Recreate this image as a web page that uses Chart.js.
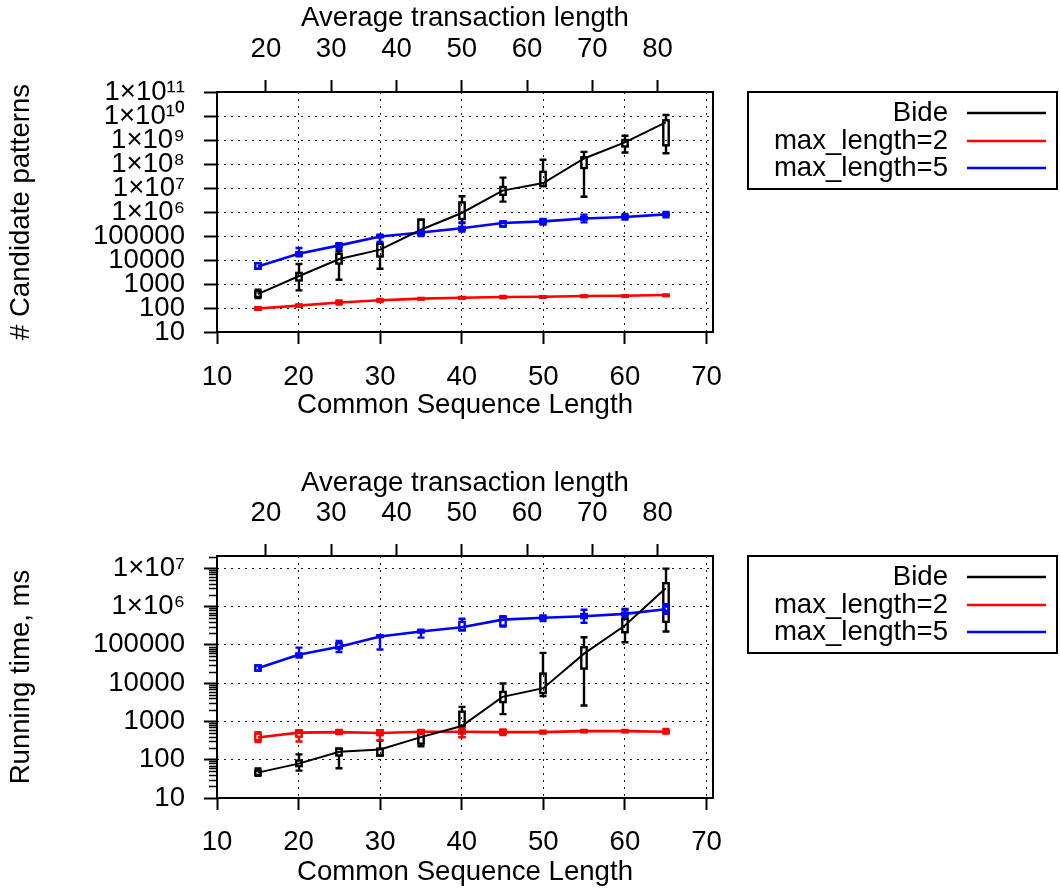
<!DOCTYPE html>
<html><head><meta charset="utf-8">
<script src="https://cdn.jsdelivr.net/npm/chart.js@4"></script>
<style>
html,body{margin:0;padding:0;background:#fff;}
.box{position:absolute;left:0;width:1060px;}
</style></head><body>
<div style="position:relative;width:1060px;height:891px;">
<div class="box" style="top:0;height:445px"><canvas id="c1" width="1060" height="445"></canvas></div>
<div class="box" style="top:445px;height:446px"><canvas id="c2" width="1060" height="446"></canvas></div>
</div>
<script>
// ---------- categories / ticks ----------
const seqLength = [15, 20, 25, 30, 35, 40, 45, 50, 55, 60, 65];
const seqTicks = [10, 20, 30, 40, 50, 60, 70];
const avgTransTicks = [20, 30, 40, 50, 60, 70, 80];
const seriesNames = ['Bide', 'max_length=2', 'max_length=5'];

const candTickValues = [10, 100, 1e3, 1e4, 1e5, 1e6, 1e7, 1e8, 1e9, 1e10, 1e11];
const candTickLabels = ['10', '100', '1000', '10000', '100000', '1×10⁶', '1×10⁷', '1×10⁸', '1×10⁹', '1×10¹⁰', '1×10¹¹'];
const timeTickValues = [10, 100, 1e3, 1e4, 1e5, 1e6, 1e7];
const timeTickLabels = ['10', '100', '1000', '10000', '100000', '1×10⁶', '1×10⁷'];

// ---------- top chart: # candidate patterns ----------
const candBideMed = [380, 2100, 11000, 27000, 182000, 910000, 7.8e6, 1.6e7, 1.7e8, 7.9e8, 5.4e9];
const candBideQ1  = [290, 1400, 7100, 14000, 132000, 510000, 5.2e6, 1.2e7, 6.8e7, 5.4e8, 6.0e8];
const candBideQ3  = [490, 2900, 18000, 47000, 480000, 2.5e6, 1.1e7, 4.7e7, 1.9e8, 1.0e9, 6.6e9];
const candBideLo  = [260, 540, 1500, 4300, 132000, 350000, 2.7e6, 1.2e7, 4.3e6, 3.0e8, 2.8e8];
const candBideHi  = [580, 6800, 23000, 112000, 480000, 4.5e6, 2.7e7, 1.5e8, 3.2e8, 1.5e9, 1.1e10];

const candMax2Med = [95, 126, 170, 209, 245, 269, 288, 295, 316, 324, 347];
const candMax2Q1  = [86, 116, 155, 196, 232, 256, 276, 283, 302, 312, 335];
const candMax2Q3  = [104, 137, 185, 222, 258, 282, 300, 307, 330, 336, 359];
const candMax2Lo  = [84, 112, 140, 180, 228, 250, 262, 280, 298, 308, 332];
const candMax2Hi  = [108, 142, 205, 240, 262, 288, 318, 310, 336, 342, 362];

const candMax5Med = [5400, 18200, 40700, 95500, 141000, 209000, 347000, 407000, 537000, 617000, 794000];
const candMax5Q1  = [4300, 15500, 35000, 88000, 110000, 180000, 250000, 330000, 480000, 560000, 720000];
const candMax5Q3  = [7400, 21000, 47000, 102000, 155000, 240000, 400000, 480000, 620000, 700000, 880000];
const candMax5Lo  = [4300, 14100, 28000, 56000, 100000, 155000, 250000, 300000, 370000, 480000, 600000];
const candMax5Hi  = [7400, 31600, 50000, 107000, 160000, 370000, 400000, 510000, 780000, 830000, 1.0e6];

// ---------- bottom chart: running time ----------
const timeBideMed = [46, 79, 162, 186, 389, 760, 4400, 7400, 59000, 320000, 3.0e6];
const timeBideQ1  = [40, 68, 129, 129, 263, 740, 3200, 5500, 24000, 214000, 400000];
const timeBideQ3  = [52, 95, 195, 195, 480, 1800, 5900, 17800, 87000, 480000, 4.1e6];
const timeBideLo  = [38, 52, 60, 129, 224, 390, 1550, 4600, 2600, 117000, 224000];
const timeBideHi  = [59, 138, 195, 316, 590, 2400, 9800, 62000, 158000, 870000, 9.8e6];

const timeMax2Med = [380, 510, 525, 500, 540, 540, 525, 525, 560, 560, 540];
const timeMax2Q1  = [325, 400, 480, 440, 490, 480, 480, 500, 530, 540, 500];
const timeMax2Q3  = [480, 580, 580, 590, 590, 600, 590, 555, 590, 580, 580];
const timeMax2Lo  = [290, 300, 470, 325, 470, 390, 440, 480, 520, 520, 480];
const timeMax2Hi  = [525, 590, 600, 590, 600, 650, 620, 570, 600, 600, 640];

const timeMax5Med = [24500, 55000, 89000, 166000, 224000, 288000, 457000, 513000, 562000, 646000, 850000];
const timeMax5Q1  = [21500, 50000, 80000, 160000, 210000, 240000, 320000, 480000, 500000, 600000, 780000];
const timeMax5Q3  = [29000, 60000, 110000, 175000, 240000, 400000, 540000, 560000, 640000, 700000, 1.0e6];
const timeMax5Lo  = [21000, 47000, 65000, 76000, 155000, 240000, 300000, 420000, 380000, 540000, 650000];
const timeMax5Hi  = [29000, 85000, 126000, 178000, 251000, 480000, 560000, 590000, 830000, 830000, 1.15e6];

const seriesColors = ['#000000', '#ff0000', '#0000ff'];

// ---------- helpers ----------
const FONT = {family: "'Liberation Sans', Arial, Helvetica, sans-serif", size: 27.6};
Chart.defaults.font.family = FONT.family;
Chart.defaults.font.size = FONT.size;
Chart.defaults.color = '#000';

function makeDataset(i, med, q1, q3, lo, hi) {
  return {
    label: seriesNames[i],
    data: seqLength.map((x, k) => ({x: x, y: med[k]})),
    borderColor: seriesColors[i],
    backgroundColor: seriesColors[i],
    borderWidth: i === 0 ? 2 : 2.6,
    pointRadius: 0,
    tension: 0,
    fill: false,
    stats: {q1: q1, q3: q3, lo: lo, hi: hi}
  };
}

const candlePlugin = {
  id: 'candles',
  afterDatasetsDraw(chart) {
    const ctx = chart.ctx, xs = chart.scales.x, ys = chart.scales.y, a = chart.chartArea;
    ctx.save();
    ctx.beginPath(); ctx.rect(a.left, a.top, a.right - a.left, a.bottom - a.top); ctx.clip();
    chart.data.datasets.forEach(ds => {
      const st = ds.stats;
      ctx.strokeStyle = ds.borderColor; ctx.lineWidth = 2.4; ctx.setLineDash([]);
      ds.data.forEach((p, i) => {
        const x = Math.round(xs.getPixelForValue(p.x));
        const yq1 = ys.getPixelForValue(st.q1[i]), yq3 = ys.getPixelForValue(st.q3[i]);
        const ylo = ys.getPixelForValue(st.lo[i]), yhi = ys.getPixelForValue(st.hi[i]);
        ctx.beginPath();
        ctx.moveTo(x, yq1); ctx.lineTo(x, ylo);
        ctx.moveTo(x, yq3); ctx.lineTo(x, yhi);
        ctx.moveTo(x - 3.5, ylo); ctx.lineTo(x + 3.5, ylo);
        ctx.moveTo(x - 3.5, yhi); ctx.lineTo(x + 3.5, yhi);
        ctx.stroke();
        ctx.strokeRect(x - 2.7, yq3, 5.4, Math.max(yq1 - yq3, 1.5));
      });
    });
    ctx.restore();
  }
};

const framePlugin = {
  id: 'frameLegend',
  afterDraw(chart, args, opts) {
    const ctx = chart.ctx, a = chart.chartArea;
    ctx.save();
    ctx.setLineDash([]);
    ctx.strokeStyle = '#000'; ctx.lineWidth = 2;
    ctx.strokeRect(a.left, a.top, a.right - a.left, a.bottom - a.top);
    // minor log ticks
    if (opts.minor) {
      const ys = chart.scales.y;
      ctx.lineWidth = 1.5;
      ctx.beginPath();
      for (let d = 10; d < ys.max; d *= 10) {
        for (let m = 2; m <= 9; m++) {
          const v = m * d;
          if (v >= ys.max) break;
          const y = Math.round(ys.getPixelForValue(v)) + 0.5;
          ctx.moveTo(a.left - 8, y); ctx.lineTo(a.left, y);
        }
      }
      ctx.stroke();
    }
    // legend (gnuplot style)
    const bx = a.right + 35, by = a.top, bw = 309, bh = 97;
    ctx.lineWidth = 2;
    ctx.strokeRect(bx, by, bw, bh);
    ctx.font = FONT.size + 'px ' + FONT.family;
    ctx.textAlign = 'right'; ctx.textBaseline = 'middle';
    const rows = [21, 49, 76];
    chart.data.datasets.forEach((ds, i) => {
      const y = by + rows[i];
      ctx.fillStyle = '#000';
      ctx.fillText(ds.label, bx + 200, y);
      ctx.strokeStyle = ds.borderColor;
      ctx.lineWidth = 2.4;
      ctx.beginPath(); ctx.moveTo(bx + 219, y); ctx.lineTo(bx + 298, y); ctx.stroke();
    });
    ctx.restore();
  }
};

function buildChart(canvasId, cfg) {
  const H = cfg.height;
  return new Chart(document.getElementById(canvasId), {
    type: 'line',
    data: {datasets: cfg.datasets},
    plugins: [candlePlugin, framePlugin],
    options: {
      responsive: false,
      animation: false,
      layout: {padding: {left: 0, right: 347, top: 0, bottom: 0}},
      plugins: {legend: {display: false}, tooltip: {enabled: false}, frameLegend: {minor: cfg.minor}},
      scales: {
        x: {
          type: 'linear', position: 'bottom', min: 10, max: 70.8,
          afterBuildTicks: s => { s.ticks = seqTicks.map(v => ({value: v})); },
          afterFit: s => { s.height = H - cfg.plotBottom; },
          ticks: {padding: cfg.xPad, autoSkip: false, maxRotation: 0, font: FONT, color: '#000'},
          grid: {
            display: true, drawOnChartArea: true, drawTicks: true,
            color: c => (c.tick && (c.tick.value === 10)) ? 'rgba(0,0,0,0)' : 'rgba(0,0,0,0.9)',
            lineWidth: 1, tickLength: 12, tickWidth: 2, tickColor: '#000', tickBorderDash: []
          },
          border: {display: false, dash: [2, 5]},
          title: {display: true, text: 'Common Sequence Length', font: FONT, color: '#000', padding: {top: 0, bottom: cfg.xTitlePad}}
        },
        x2: {
          type: 'linear', position: 'top', min: 12.5, max: 88.5,
          afterBuildTicks: s => { s.ticks = avgTransTicks.map(v => ({value: v})); },
          afterFit: s => { s.height = cfg.plotTop; },
          ticks: {padding: 14, autoSkip: false, maxRotation: 0, font: FONT, color: '#000'},
          grid: {display: true, drawOnChartArea: false, drawTicks: true, tickLength: 12, tickWidth: 2, tickColor: '#000'},
          border: {display: false},
          title: {display: true, text: 'Average transaction length', font: FONT, color: '#000', padding: {top: cfg.x2TitlePad, bottom: 0}}
        },
        y: {
          type: 'logarithmic', position: 'left', min: 10, max: cfg.yMax,
          afterBuildTicks: s => { s.ticks = cfg.tickValues.map(v => ({value: v})); },
          afterFit: s => { s.width = 217; },
          ticks: {
            padding: 19, autoSkip: false, font: FONT, color: '#000',
            callback: v => cfg.tickLabels[cfg.tickValues.indexOf(v)]
          },
          grid: {
            display: true, drawOnChartArea: true, drawTicks: true,
            color: c => (c.tick && (c.tick.value === 10 || c.tick.value >= cfg.yMax)) ? 'rgba(0,0,0,0)' : 'rgba(0,0,0,0.9)',
            lineWidth: 1, tickLength: 13, tickWidth: 2, tickColor: '#000', tickBorderDash: []
          },
          border: {display: false, dash: [2, 5]},
          title: {display: true, text: cfg.yTitle, font: FONT, color: '#000', padding: {top: 5, bottom: 0}}
        }
      }
    }
  });
}

buildChart('c1', {
  height: 445, plotTop: 92, plotBottom: 332, xPad: 17, xTitlePad: 23, x2TitlePad: 2,
  yMax: 1e11, tickValues: candTickValues, tickLabels: candTickLabels, minor: false,
  yTitle: '# Candidate patterns',
  datasets: [
    makeDataset(0, candBideMed, candBideQ1, candBideQ3, candBideLo, candBideHi),
    makeDataset(1, candMax2Med, candMax2Q1, candMax2Q3, candMax2Lo, candMax2Hi),
    makeDataset(2, candMax5Med, candMax5Q1, candMax5Q3, candMax5Lo, candMax5Hi)
  ]
});

buildChart('c2', {
  height: 446, plotTop: 111, plotBottom: 353, xPad: 16, xTitlePad: 2, x2TitlePad: 22,
  yMax: 2.1e7, tickValues: timeTickValues, tickLabels: timeTickLabels, minor: true,
  yTitle: 'Running time, ms',
  datasets: [
    makeDataset(0, timeBideMed, timeBideQ1, timeBideQ3, timeBideLo, timeBideHi),
    makeDataset(1, timeMax2Med, timeMax2Q1, timeMax2Q3, timeMax2Lo, timeMax2Hi),
    makeDataset(2, timeMax5Med, timeMax5Q1, timeMax5Q3, timeMax5Lo, timeMax5Hi)
  ]
});
</script>
</body></html>
